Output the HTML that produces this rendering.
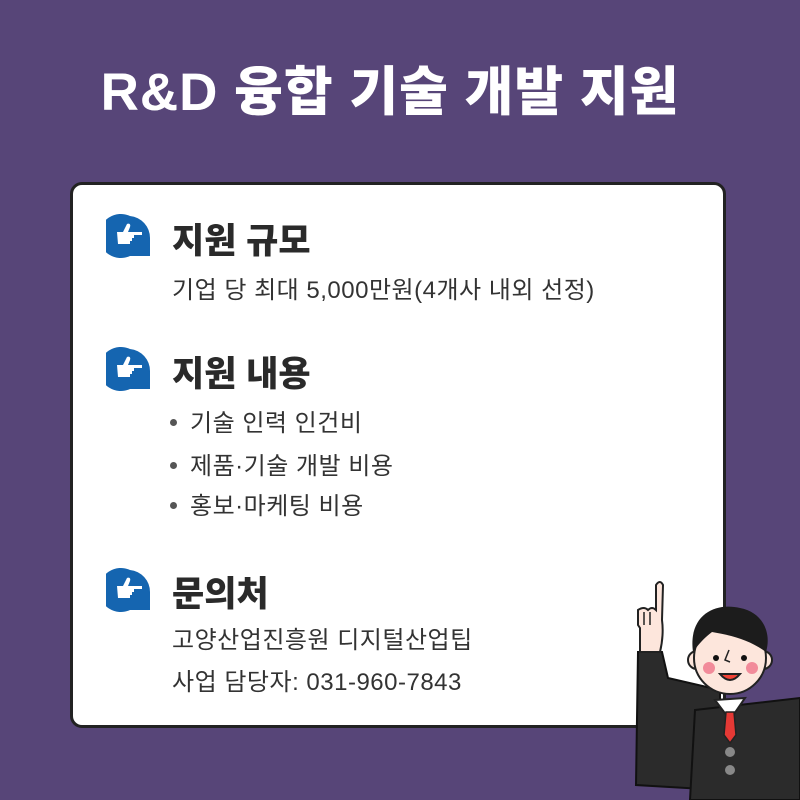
<!DOCTYPE html>
<html><head><meta charset="utf-8"><style>
body{margin:0;width:800px;height:800px;background:#574578;position:relative;overflow:hidden;font-family:"Liberation Sans","Noto Sans CJK KR",sans-serif;}
.title{position:absolute;top:50px;left:0;width:780px;text-align:center;color:#fff;font-size:53px;font-weight:900;letter-spacing:1px;}
.card{position:absolute;left:70px;top:182px;width:650px;height:540px;background:#fff;border:3px solid #222;border-radius:12px;}
.h{position:absolute;left:172px;font-size:35px;font-weight:900;color:#2a2a2a;}
.t{position:absolute;left:172px;font-size:24px;color:#333;letter-spacing:0.5px}
.b{position:absolute;left:170px;font-size:24px;color:#333;letter-spacing:0.5px}
.b:before{content:"";display:inline-block;width:7px;height:7px;border-radius:50%;background:#555;margin-right:13px;vertical-align:middle;position:relative;top:-2px}
.ic{position:absolute;left:106px;width:48px;height:44px}
</style></head><body>
<div class="title">R&amp;D 융합 기술 개발 지원</div>
<div class="card"></div>
<svg class="ic" style="top:214px" viewBox="0 0 48 44"><path d="M24 2A22 22 0 1 0 24 42H44V24A22 22 0 0 0 24 2Z" fill="#1565b0"/><path d="M11 18h6l4-8c2-1 4 0 3 3l-2 5h14v3h-8v3h-2v3h-2v3h-12z" fill="#fff"/></svg>
<svg class="ic" style="top:347px" viewBox="0 0 48 44"><path d="M24 2A22 22 0 1 0 24 42H44V24A22 22 0 0 0 24 2Z" fill="#1565b0"/><path d="M11 18h6l4-8c2-1 4 0 3 3l-2 5h14v3h-8v3h-2v3h-2v3h-12z" fill="#fff"/></svg>
<svg class="ic" style="top:568px" viewBox="0 0 48 44"><path d="M24 2A22 22 0 1 0 24 42H44V24A22 22 0 0 0 24 2Z" fill="#1565b0"/><path d="M11 18h6l4-8c2-1 4 0 3 3l-2 5h14v3h-8v3h-2v3h-2v3h-12z" fill="#fff"/></svg>
<div class="h" style="top:213px">지원 규모</div>
<div class="t" style="top:270px">기업 당 최대 5,000만원(4개사 내외 선정)</div>
<div class="h" style="top:346px">지원 내용</div>
<div class="b" style="top:403px">기술 인력 인건비</div>
<div class="b" style="top:446px">제품·기술 개발 비용</div>
<div class="b" style="top:486px">홍보·마케팅 비용</div>
<div class="h" style="top:566px">문의처</div>
<div class="t" style="top:620px">고양산업진흥원 디지털산업팁</div>
<div class="t" style="top:662px">사업 담당자: 031-960-7843</div>
<svg style="position:absolute;left:600px;top:580px" width="200" height="220" viewBox="0 0 200 220">
<path d="M38 72 L36 205 L120 210 L120 110 L68 98 L62 72Z" fill="#2b2b2b" stroke="#111" stroke-width="2"/>
<path d="M40 72 L40 48 L38 45 L38 30 Q44 26 48 30 Q52 26 56 30 L56 5 Q60 -1 63 5 L62 40 Q64 55 60 72Z" fill="#fde6dc" stroke="#222" stroke-width="2"/>
<path d="M44 32 L44 45 M50 32 L50 45" stroke="#222" stroke-width="1.5"/>
<path d="M95 130 L200 118 L200 220 L90 220Z" fill="#2b2b2b" stroke="#111" stroke-width="2"/>
<path d="M115 120 L130 140 L145 118Z" fill="#fff" stroke="#222" stroke-width="2"/>
<path d="M126 132 L134 132 L136 155 L130 163 L124 155Z" fill="#e53935" stroke="#222" stroke-width="1.5"/>
<circle cx="130" cy="172" r="5" fill="#888"/><circle cx="130" cy="190" r="5" fill="#888"/>
<circle cx="97" cy="80" r="9" fill="#fde6dc" stroke="#222" stroke-width="2"/>
<circle cx="163" cy="80" r="9" fill="#fde6dc" stroke="#222" stroke-width="2"/>
<circle cx="130" cy="78" r="36" fill="#fde6dc" stroke="#222" stroke-width="2"/>
<path d="M93 72 C88 35 115 22 140 28 C162 32 172 52 166 72 C150 60 130 55 112 52 C104 58 98 65 93 72Z" fill="#1c1c1c"/>
<circle cx="116" cy="78" r="3" fill="#111"/><circle cx="144" cy="78" r="3" fill="#111"/>
<circle cx="109" cy="88" r="6" fill="#f28b9a"/><circle cx="152" cy="88" r="6" fill="#f28b9a"/>
<path d="M120 94 Q130 106 140 94Z" fill="#f44336" stroke="#222" stroke-width="2"/>
<path d="M129 70 l-4 10 l5 2" fill="none" stroke="#222" stroke-width="1.5"/>
</svg>
</body></html>
